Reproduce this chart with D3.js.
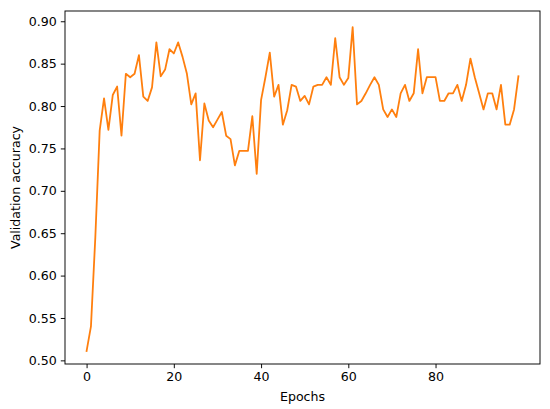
<!DOCTYPE html>
<html>
<head>
<meta charset="utf-8">
<script src="https://cdn.jsdelivr.net/npm/d3@7"></script>
<style>
  body { margin: 0; background: #fff; }
  text { font-family: "DejaVu Sans", sans-serif; }
</style>
</head>
<body>
<div id="chart"></div>
<script>
// validation accuracy per epoch
let accuracy = [
  0.511, 0.540, 0.645, 0.771, 0.809, 0.772, 0.813, 0.823, 0.765, 0.838,
  0.834, 0.838, 0.860, 0.811, 0.806, 0.822, 0.875, 0.835, 0.843, 0.867,
  0.862, 0.875, 0.858, 0.838, 0.802, 0.815, 0.736, 0.803, 0.783, 0.775,
  0.784, 0.793, 0.765, 0.761, 0.730, 0.747, 0.747, 0.747, 0.788, 0.720,
  0.807, 0.834, 0.863, 0.811, 0.825, 0.778, 0.795, 0.825, 0.823, 0.806,
  0.812, 0.802, 0.823, 0.825, 0.825, 0.834, 0.825, 0.880, 0.834, 0.825,
  0.833, 0.893, 0.802, 0.806, 0.815, 0.825, 0.834, 0.825, 0.796, 0.787,
  0.796, 0.787, 0.815, 0.825, 0.806, 0.815, 0.867, 0.815, 0.834, 0.834,
  0.834, 0.806, 0.806, 0.815, 0.815, 0.825, 0.806, 0.825, 0.856, 0.834,
  0.815, 0.796, 0.815, 0.815, 0.796, 0.825, 0.778, 0.778, 0.796, 0.835
];
let epochs = accuracy.map(function (d, i) { return i; });
let xTicks = [0, 20, 40, 60, 80];
let yTicks = [0.50, 0.55, 0.60, 0.65, 0.70, 0.75, 0.80, 0.85, 0.90];

let width = 550;
let height = 409;
let margin = { top: 11, right: 10, bottom: 45, left: 65 };
let fontSize = "12.6px";

let svg = d3.select("#chart")
    .append("svg")
    .attr("width", width)
    .attr("height", height);

// matplotlib style padding around the data
let xPad = (d3.max(epochs) - d3.min(epochs)) * 0.05;
let yExt = d3.extent(accuracy);
let yPad = (yExt[1] - yExt[0]) * 0.05;

let x = d3.scaleLinear()
    .domain([d3.min(epochs) - xPad, d3.max(epochs) + xPad])
    .range([margin.left, width - margin.right]);

let y = d3.scaleLinear()
    .domain([yExt[0] - yPad * 0.8, yExt[1] + yPad])
    .range([height - margin.bottom, margin.top]);

svg.append("g")
    .attr("transform", "translate(0," + (height - margin.bottom) + ")")
    .call(d3.axisBottom(x).tickValues(xTicks).tickSize(4.2).tickPadding(4).tickSizeOuter(0));

svg.append("g")
    .attr("transform", "translate(" + margin.left + ",0)")
    .call(d3.axisLeft(y).tickValues(yTicks).tickFormat(d3.format(".2f")).tickSize(4.2).tickPadding(4).tickSizeOuter(0));

svg.selectAll(".tick text")
    .attr("font-size", fontSize)
    .attr("font-family", "DejaVu Sans")
    .attr("fill", "#000");
svg.selectAll(".tick line").attr("stroke", "#000").attr("stroke-width", 0.95);
svg.selectAll(".domain").remove();

// frame
svg.append("rect")
    .attr("x", margin.left)
    .attr("y", margin.top)
    .attr("width", width - margin.right - margin.left)
    .attr("height", height - margin.bottom - margin.top)
    .attr("fill", "none")
    .attr("stroke", "#000")
    .attr("stroke-width", 0.95);

let line = d3.line()
    .x(function (d, i) { return x(epochs[i]); })
    .y(function (d) { return y(d); });

svg.append("path")
    .datum(accuracy)
    .attr("d", line)
    .attr("fill", "none")
    .attr("stroke", "#ff7f0e")
    .attr("stroke-width", 1.8)
    .attr("stroke-linejoin", "round")
    .attr("stroke-linecap", "square");

svg.append("text")
    .attr("x", (margin.left + width - margin.right) / 2)
    .attr("y", 401)
    .attr("text-anchor", "middle")
    .attr("font-size", fontSize)
    .text("Epochs");

svg.append("text")
    .attr("transform", "translate(20," + ((margin.top + height - margin.bottom) / 2) + ") rotate(-90)")
    .attr("text-anchor", "middle")
    .attr("font-size", fontSize)
    .text("Validation accuracy");
</script>
</body>
</html>
